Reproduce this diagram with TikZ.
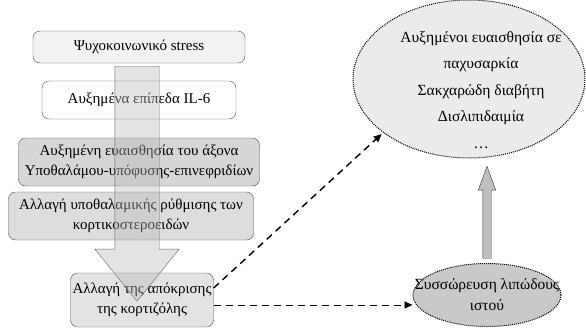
\documentclass[tikz,border=0pt]{standalone}
\usepackage{fontspec}
\setmainfont{Liberation Serif}
\usetikzlibrary{shapes,arrows.meta}

\begin{document}
\begin{tikzpicture}[x=1pt,y=-1pt,font=\fontsize{15}{20}\selectfont]
\tikzstyle{box}=[rectangle,rounded corners=7pt,draw=black!70,align=center,inner sep=2pt]
\tikzstyle{blob}=[ellipse,draw,line width=1pt,dash pattern=on 1pt off 1pt,inner sep=0pt]
\tikzstyle{dashlink}=[dashed,dash pattern=on 7pt off 5pt,-{Triangle[length=8pt,width=7pt]}]
\useasboundingbox (0,0) rectangle (586,327);
\node[box,fill=gray!10,minimum width=212pt,minimum height=32pt](stress) at (139,47) {Ψυχοκοινωνικό stress};
\node[box,fill=white,minimum width=194pt,minimum height=38pt](il) at (139,100) {Αυξημένα επίπεδα IL-6};
\node[box,fill=gray!32,minimum width=241pt,minimum height=48pt](hpa) at (139,162) {Αυξημένη ευαισθησία του άξονα\\Υποθαλάμου-υπόφυσης-επινεφριδίων};
\node[box,fill=gray!27,minimum width=245pt,minimum height=48pt](hypo) at (131,216) {Αλλαγή υποθαλαμικής ρύθμισης των\\κορτικοστεροειδών};
\node[box,fill=gray!22,minimum width=130pt,minimum height=54pt](cort) at (142,300) {Αλλαγή της απόκρισης\\της κορτιζόλης};
\node[single arrow,draw=black!60,fill=gray!55,fill opacity=0.4,rotate=-90,minimum height=235pt,minimum width=84pt,single arrow head extend=20pt,single arrow tip angle=78,inner xsep=0pt,inner ysep=22pt](flow) at (137,170) {};

\node[blob,fill=gray!16,minimum width=232pt,minimum height=158pt](effects) at (469,79) {};
\node[font=\fontsize{15.5}{26.5}\selectfont,align=center](effectstext) at (481,90) {Αυξημένοι ευαισθησία σε\\παχυσαρκία\\Σακχαρώδη διαβήτη\\Δισλιπιδαιμία\\\dots};
\node[blob,fill=gray!42,minimum width=148pt,minimum height=63pt,label={[font=\fontsize{15.5}{21}\selectfont,align=center]center:Συσσώρευση λιπώδους\\ιστού}](fat) at (487,295) {};
\node[single arrow,draw=black!80,fill=gray!50,rotate=90,minimum height=92pt,minimum width=17pt,single arrow head extend=4.5pt,single arrow tip angle=40,inner xsep=0pt,inner ysep=4pt](rise) at (487,218) {};

\draw[dashlink,line width=1.4pt,shorten >=2pt] ([yshift=12pt]cort.east) -> (effects.212);
\draw[dashlink,line width=0.9pt] ([yshift=-5pt]cort.east) -> ([yshift=-10pt]fat.west);
\end{tikzpicture}
\end{document}
